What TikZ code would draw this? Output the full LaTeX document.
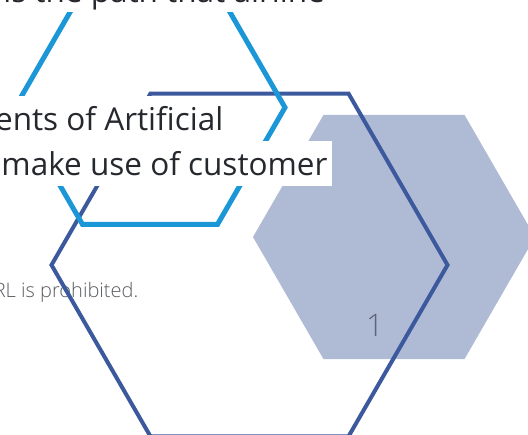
\documentclass[tikz,border=0pt]{standalone}
\usepackage{fontspec}
\setmainfont{Open Sans}
\IfFontExistsTF{Open Sans Light}{\newfontfamily\lightf{Open Sans Light}}{%
  \IfFontExistsTF{OpenSans-Light}{\newfontfamily\lightf{OpenSans-Light}}{\newfontfamily\lightf{Open Sans}}}
\definecolor{lblue}{HTML}{1B96D6}
\definecolor{dblue}{HTML}{3C599D}
\definecolor{hfill}{HTML}{AFBAD4}
\definecolor{txt}{HTML}{25282D}
\definecolor{gtxt}{HTML}{595C61}
\definecolor{numc}{HTML}{5B6579}
\begin{document}
\begin{tikzpicture}[x=1pt,y=-1pt,
  hl/.style={fill=white, inner xsep=4pt, inner ysep=0pt, text height=35pt, text depth=10pt,
             font=\fontsize{31.5}{45}\selectfont, text=txt, anchor=base east},
  darkhex/.style={draw=dblue, line width=4pt, line join=miter},
  bluehex/.style={draw=lblue, line width=5pt, line join=miter}]
\useasboundingbox (0,0) rectangle (528,435);
\clip (0,0) rectangle (528,435);
% filled hexagon
\coordinate (cf) at (394,237);
\fill[hfill] ([shift={(cf)}]0:141) -- ([shift={(cf)}]60:141) -- ([shift={(cf)}]120:141)
  -- ([shift={(cf)}]180:141) -- ([shift={(cf)}]240:141) -- ([shift={(cf)}]300:141) -- cycle;
\node[font=\lightf\fontsize{31}{37}\selectfont, text=numc, anchor=base, inner sep=0pt] (num) at (375,337) {1};
\node[font=\lightf\fontsize{20}{24}\selectfont, text=gtxt, anchor=base east, inner sep=0pt] (rl) at (138.5,297.5) {RL is prohibited.};
% dark outline hexagon
\coordinate (cd) at (249.5,265);
\draw[darkhex] ([shift={(cd)}]0:198) -- ([shift={(cd)}]60:198) -- ([shift={(cd)}]120:198)
  -- ([shift={(cd)}]180:198) -- ([shift={(cd)}]240:198) -- ([shift={(cd)}]300:198) -- cycle;
% light blue outline hexagon
\coordinate (cb) at (150,107.5);
\draw[bluehex] ([shift={(cb)}]0:135) -- ([shift={(cb)}]60:135) -- ([shift={(cb)}]120:135)
  -- ([shift={(cb)}]180:135) -- ([shift={(cb)}]240:135) -- ([shift={(cb)}]300:135) -- cycle;
% text lines
\node[hl] (l0) at (329,2.5) {is the path that airline};
\node[hl] (l1) at (227.5,131) {ents of Artificial};
\node[hl] (l2) at (331.7,176) {make use of customer};
\end{tikzpicture}
\end{document}
